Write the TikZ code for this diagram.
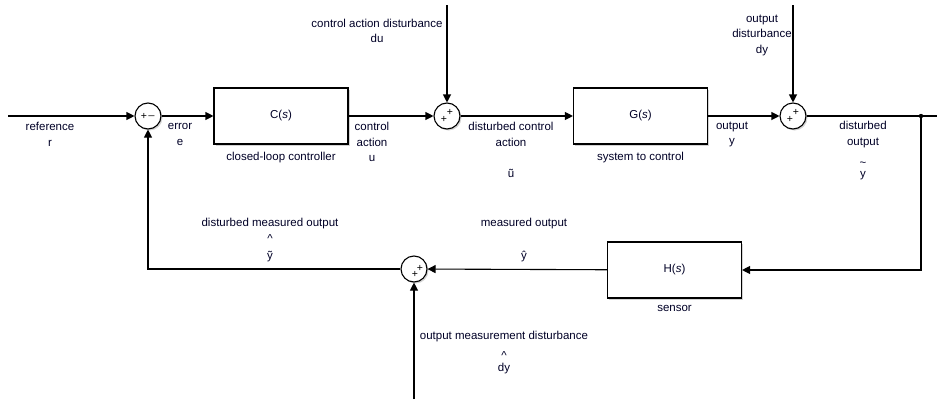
\documentclass[tikz,border=0pt]{standalone}
\usepackage{fontspec}
\setmainfont{Liberation Sans}
\usetikzlibrary{arrows.meta,shadows,positioning}

\begin{document}
\begin{tikzpicture}[x=1pt,y=-1pt,
    every node/.style={font=\fontsize{11.5}{15.5}\selectfont,text=black!85!blue},
    block/.style={draw,line width=1.1pt,fill=white,minimum width=134pt,minimum height=56pt,
        drop shadow={shadow xshift=1.5pt,shadow yshift=-1.5pt,opacity=0.35}},
    sum/.style={draw,line width=1.1pt,circle,fill=white,minimum size=26pt,inner sep=0pt,
        drop shadow={shadow xshift=1.5pt,shadow yshift=-1.5pt,opacity=0.35}},
    sgn/.style={font=\fontsize{10.5}{10}\selectfont,inner sep=0pt,text=black},
    lbl/.style={align=center,inner sep=0pt},
    sig/.style={line width=1.1pt,-{Triangle[length=8pt,width=8pt]}}]
    \useasboundingbox (0,0) rectangle (937,399);
    % blocks
    \node[block] (C) at (281,116) {C(\textit{s})};
    \node[block] (G) at (640.5,116) {G(\textit{s})};
    \node[block] (H) at (674.5,270) {H(\textit{s})};
    % sums
    \node[sum] (s1) at (148,116) {};
    \node[sum] (s2) at (447,116) {};
    \node[sum] (s3) at (793,116) {};
    \node[sum] (s4) at (414,269) {};
    \node[sgn] at ([shift={(-4,0)}]s1.center) {+};
    \node[sgn] at ([shift={(3.5,0)}]s1.center) {\_};
    \node[sgn] at ([shift={(-3,3)}]s2.center) {+};
    \node[sgn] at ([shift={(3,-4)}]s2.center) {+};
    \node[sgn] at ([shift={(-3,3)}]s3.center) {+};
    \node[sgn] at ([shift={(3,-4)}]s3.center) {+};
    \node[sgn] at ([shift={(1,5)}]s4.center) {+};
    \node[sgn] at ([shift={(6,-1)}]s4.center) {+};
    % free ends
    \coordinate (rin) at (8,116);
    \coordinate (duin) at (447,5);
    \coordinate (dyin) at (793,5);
    \coordinate (split) at (921,116);
    \coordinate (yout) at (937,116);
    \coordinate (dymin) at (414,399);
    % signals
    \draw[sig] (rin) -- (s1);
    \draw[sig] (s1) -- (C);
    \draw[sig] (C) -- (s2);
    \draw[sig] (duin) -- (s2);
    \draw[sig] (s2) -- (G);
    \draw[sig] (G) -- (s3);
    \draw[sig] (dyin) -- (s3);
    \draw[line width=1.1pt] (s3) -- (split) -- (yout);
    \fill (split) circle (2.2pt);
    \draw[sig] (split) |- (H.east);
    \draw[sig] (H) -- (s4);
    \draw[sig] (dymin) -- (s4);
    \draw[sig] (s4) -| (s1);
    % labels
    \node[lbl] (lref) at (50,134.5) {reference\\r};
    \node[lbl] (lerr) at (180,134.5) {error\\e};
    \node[below=7pt of C,lbl] (lctrl) {closed-loop controller};
    \node[lbl] (ldu) at (377,31) {control action disturbance\\du};
    \node[lbl] (lu) at (372,142) {control\\action\\u};
    \node[lbl] (ldu2) at (511,134.5) {disturbed control\\action};
    \node[lbl] (lut) at (511,173) {ũ};
    \node[below=7pt of G,lbl] (lsys) {system to control};
    \node[lbl] (ly) at (732,134.5) {output\\y};
    \node[lbl] (ldy) at (762,35) {output\\disturbance\\dy};
    \node[lbl] (lyd) at (863,134.5) {disturbed\\output};
    \node[lbl] (lydt) at (863,164) {\textasciitilde};
    \node[lbl] (lydy) at (863,176) {y};
    \node[below=7pt of H,lbl] (lsens) {sensor};
    \node[lbl] (lym) at (524,224) {measured output};
    \node[lbl] (lymh) at (524,257) {ŷ};
    \node[lbl] (lydm) at (270,224) {disturbed measured output};
    \node[lbl] (lydmh) at (270,239) {\textasciicircum};
    \node[lbl] (lydmy) at (270,257) {ỹ};
    \node[lbl] (ldym) at (504,337) {output measurement disturbance};
    \node[lbl] (ldymh) at (504,356) {\textasciicircum};
    \node[lbl] (ldymy) at (504,369) {dy};
\end{tikzpicture}
\end{document}
